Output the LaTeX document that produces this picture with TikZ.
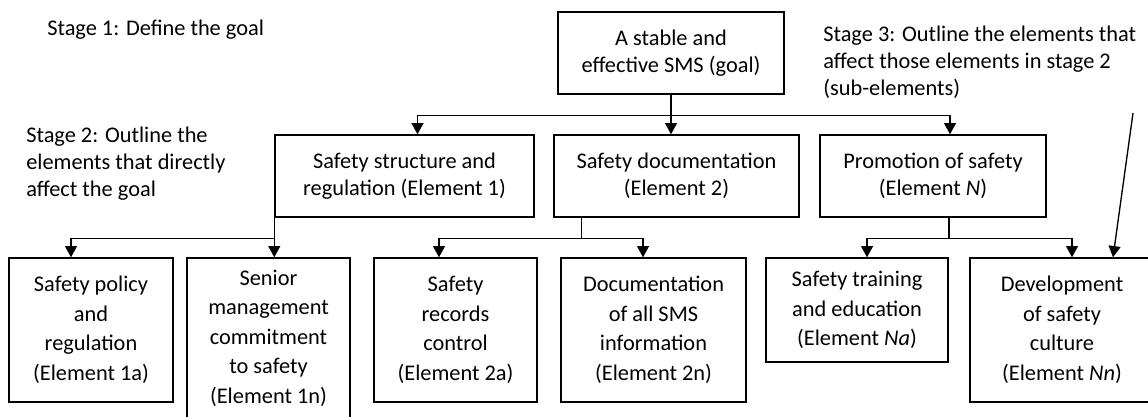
\documentclass[tikz,border=0pt]{standalone}
\usepackage{fontspec}
\setmainfont{Carlito}
\usetikzlibrary{arrows.meta, calc}

\begin{document}
\begin{tikzpicture}[x=0.025cm, y=-0.025cm,
        font=\fontsize{15.9}{19.2}\selectfont,
        box/.style={draw, line width=1pt, align=center, inner sep=0pt},
        subbox/.style={box, font=\fontsize{15.9}{21}\selectfont, minimum height=3.6cm},
        note/.style={align=left, anchor=west, inner sep=0pt},
        link/.style={line width=0.95pt},
        arr/.style={link, -{Triangle[width=8.5pt, length=8pt]}}]
        \useasboundingbox (0,0) rectangle (1148,416);

        % stages
        \node[note] (stage1) at (47,30) {Stage 1: Define the goal};
        \node[note] (stage2) at (26,164) {Stage 2: Outline the\\elements that directly\\affect the goal};
        \node[note] (stage3) at (823,62) {Stage 3: Outline the elements that\\affect those elements in stage 2\\(sub-elements)};

        % goal and elements
        \node[box, minimum width=5.65cm, minimum height=2.05cm] (goal) at (671,53) {A stable and\\effective SMS (goal)};
        \node[box, minimum width=6.475cm, minimum height=2.05cm] (e1) at (404.5,176) {Safety structure and\\regulation (Element 1)};
        \node[box, minimum width=6.125cm, minimum height=2.05cm] (e2) at (676.5,176) {Safety documentation\\(Element 2)};
        \node[box, minimum width=5.65cm, minimum height=2.05cm] (eN) at (933,176) {Promotion of safety\\(Element \textit{N})};

        % sub-elements
        \node[subbox, minimum width=4.1cm] (e1a) at (91,330) {Safety policy\\and\\regulation\\(Element 1a)};
        \node[subbox, minimum width=4.075cm, minimum height=4cm] (e1n) at (268.5,338) {Senior\\management\\commitment\\to safety\\(Element 1n)};
        \node[subbox, minimum width=4.075cm] (e2a) at (455.5,330) {Safety\\records\\control\\(Element 2a)};
        \node[subbox, minimum width=4.625cm] (e2n) at (653.5,330) {Documentation\\of all SMS\\information\\(Element 2n)};
        \node[subbox, minimum width=4.55cm, minimum height=2.6cm] (eNa) at (857,310) {Safety training\\and education\\(Element \textit{Na})};
        \node[subbox, minimum width=4.6cm] (eNn) at (1062,330) {Development\\of safety\\culture\\(Element \textit{Nn})};

        % goal -> elements
        \path (goal.south) ++(0,21) coordinate (bus0);
        \draw[link] (goal.south) -- (bus0);
        \draw[arr] (bus0) -| ($(e1.north)+(13,0)$);
        \draw[arr] (bus0) -- (bus0 |- e2.north);
        \draw[arr] (bus0) -| ($(eN.north)+(17,0)$);

        % elements -> sub-elements
        \path (e1.south west) ++(0,21) coordinate (bus1);
        \draw[link] (e1.south west) -- (bus1);
        \draw[arr] (bus1) -| ($(e1a.north)+(-20,0)$);
        \draw[arr] (bus1) -- (bus1 |- e1n.north);

        \path ($(e2.south west)+(28,0)$) ++(0,21) coordinate (bus2);
        \draw[link] ($(e2.south west)+(28,0)$) -- (bus2);
        \draw[arr] (bus2) -| ($(e2a.north)+(-16.5,0)$);
        \draw[arr] (bus2) -| ($(e2n.north)+(-10.5,0)$);

        \path ($(eN.south)+(16,0)$) ++(0,21) coordinate (bus3);
        \draw[link] ($(eN.south)+(16,0)$) -- (bus3);
        \draw[arr] (bus3) -| ($(eNa.north)+(10,0)$);
        \draw[arr] (bus3) -| ($(eNn.north)+(10,0)$);

        % pointer from stage 3
        \coordinate (s3tail) at (1133,113);
        \draw[arr] (s3tail) -- ($(eNn.north)+(51,0)$);
    \end{tikzpicture}
\end{document}
